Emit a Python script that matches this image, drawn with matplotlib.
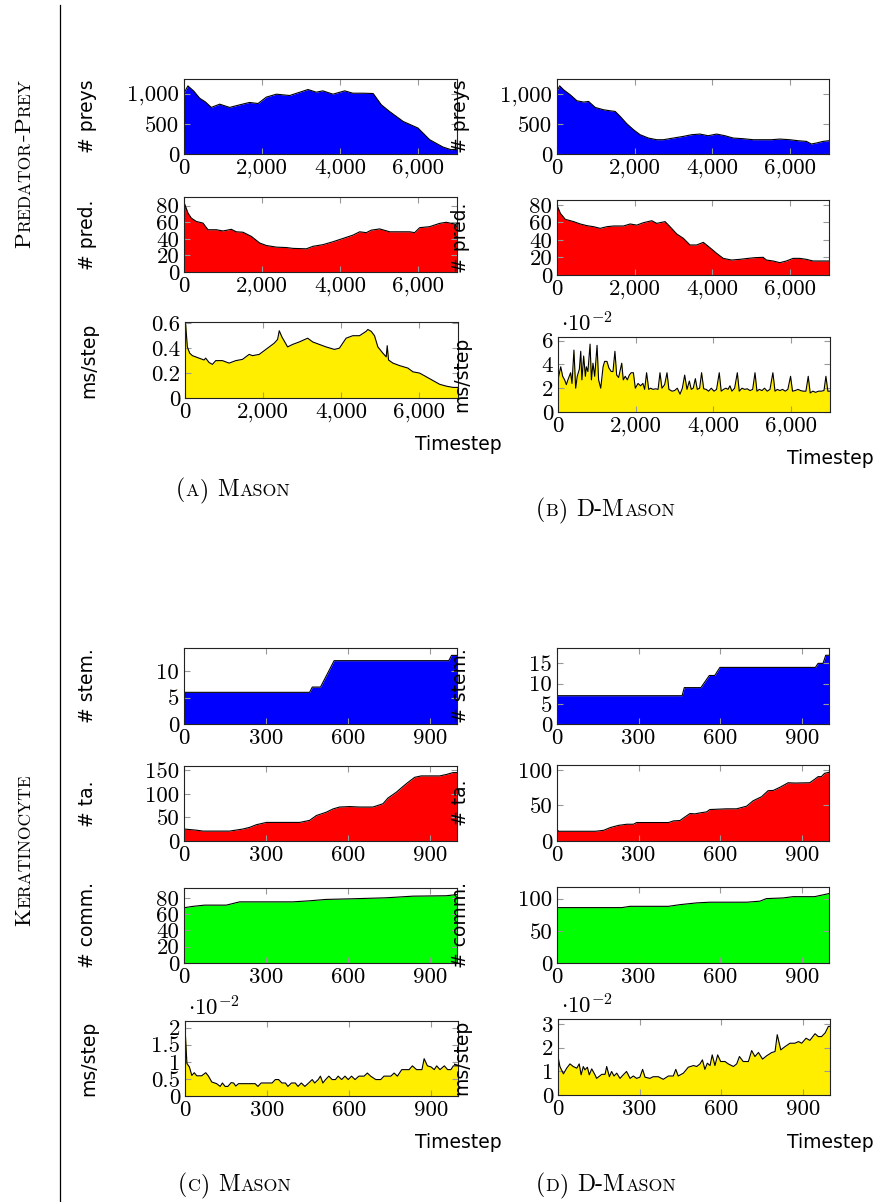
import matplotlib
matplotlib.use('Agg')
import matplotlib.pyplot as plt
from matplotlib.lines import Line2D
from matplotlib.ticker import FuncFormatter

plt.rcParams['mathtext.fontset'] = 'cm'
plt.rcParams['axes.formatter.use_mathtext'] = True

W, H = 873, 1202
SERIF = 'cmr10'
SANS = 'DejaVu Sans'

# ---------------- Predator-Prey, Mason ----------------
mason_preys_t = [0, 100, 250, 400, 550, 700, 915, 1170, 1430, 1680, 1900, 2110, 2370, 2710, 2970, 3180,
                 3390, 3560, 3820, 4120, 4330, 4590, 4850, 5060, 5270, 5620, 6000, 6300, 6640, 6850, 7000]
mason_preys = [1005, 1126, 1040, 923, 860, 770, 824, 770, 813, 852, 835, 940, 989, 967, 1022, 1066,
               1022, 1044, 989, 1044, 1005, 1005, 1000, 813, 703, 538, 429, 236, 115, 71, 82]

mason_pred_t = [0, 17, 103, 188, 316, 487, 615, 829, 1000, 1214, 1342, 1513, 1726, 1940, 2111, 2368,
                2624, 2795, 3137, 3308, 3564, 3820, 4077, 4333, 4504, 4675, 4803, 5017, 5274, 5530,
                5786, 5915, 6043, 6299, 6556, 6726, 6855, 6940, 7000]
mason_pred = [80, 82, 71, 65, 61, 59, 51, 51, 49.5, 51.5, 48.5, 48, 43, 35, 32, 30,
              29.5, 28.5, 28, 31, 33, 36.5, 40.5, 44.5, 48.5, 47.5, 50.5, 52, 48.5, 48.5,
              48.5, 47.5, 53.5, 54.7, 58.7, 60, 58.7, 58, 54.7]

mason_ms_t = [0, 17, 60, 120, 189, 360, 489, 531, 617, 703, 788, 960, 1131, 1303, 1474, 1645, 1731,
              1903, 2074, 2288, 2374, 2417, 2485, 2631, 2760, 2931, 3145, 3274, 3445, 3617, 3831,
              3959, 4131, 4302, 4474, 4645, 4688, 4774, 4859, 4945, 5073, 5159, 5185, 5219, 5331,
              5502, 5716, 5845, 6016, 6188, 6359, 6530, 6702, 6873, 7000]
mason_ms = [0.57, 0.59, 0.41, 0.36, 0.34, 0.32, 0.305, 0.32, 0.285, 0.27, 0.30, 0.30, 0.28, 0.30,
            0.31, 0.35, 0.34, 0.35, 0.39, 0.44, 0.47, 0.54, 0.49, 0.41, 0.43, 0.45, 0.48, 0.45, 0.43,
            0.41, 0.39, 0.40, 0.48, 0.50, 0.50, 0.535, 0.55, 0.535, 0.50, 0.41, 0.36, 0.33, 0.42,
            0.305, 0.28, 0.26, 0.24, 0.21, 0.20, 0.17, 0.14, 0.11, 0.095, 0.085, 0.085]

# ---------------- Predator-Prey, D-Mason ----------------
dmason_preys_t = [0, 17, 68, 171, 342, 513, 685, 813, 984, 1198, 1369, 1497, 1626, 1797, 1968, 2139,
                  2353, 2567, 2738, 2995, 3252, 3466, 3680, 3893, 4107, 4321, 4535, 4792, 5049, 5305,
                  5519, 5733, 5990, 6204, 6418, 6546, 6674, 6846, 7000]
dmason_preys = [1050, 1078, 1145, 1078, 994, 894, 872, 883, 782, 743, 726, 715, 631, 508, 408, 324,
                268, 240, 240, 268, 296, 324, 335, 307, 335, 307, 268, 257, 240, 240,
                240, 251, 240, 223, 212, 168, 184, 212, 223]

dmason_pred_t = [0, 17, 86, 214, 428, 599, 770, 941, 1112, 1284, 1455, 1711, 1883, 2054, 2225, 2439,
                 2567, 2781, 2909, 3081, 3252, 3423, 3594, 3765, 3936, 4107, 4279, 4492, 4706, 4920,
                 5091, 5305, 5391, 5562, 5733, 5904, 6075, 6247, 6418, 6589, 6760, 7000]
dmason_pred = [76, 78, 70.5, 63.6, 61, 58.3, 56.4, 55.2, 53.3, 55.2, 56, 56, 58.3, 57, 59.8, 62,
               59, 61, 55.2, 46.9, 41.9, 34.3, 34.3, 37.3, 31.2, 24.8, 19, 17.1, 17.9, 19,
               19.8, 20.2, 17.1, 16, 14.1, 16, 19, 19, 17.9, 16, 16, 16]

# ms/step in units of 1e-2
dmason_ms_t = [0, 70, 120, 170, 215, 255, 325, 360, 410, 455,
               495, 550, 585, 615, 660, 705, 730, 770, 825, 860,
               900, 945, 1005, 1045, 1100, 1160, 1200, 1260, 1310, 1370,
               1415, 1465, 1510, 1560, 1640, 1680, 1730, 1785, 1835, 1885,
               1940, 1990, 2060, 2125, 2185, 2230, 2280, 2335, 2385, 2445,
               2515, 2575, 2625, 2675, 2745, 2805, 2855, 2935, 3000, 3070,
               3140, 3200, 3260, 3320, 3380, 3430, 3480, 3535, 3585, 3645,
               3695, 3750, 3815, 3875, 3945, 4015, 4080, 4150, 4200, 4260,
               4320, 4375, 4425, 4475, 4545, 4615, 4665, 4735, 4805, 4870,
               4940, 5010, 5070, 5120, 5180, 5250, 5315, 5385, 5455, 5530,
               5585, 5645, 5710, 5780, 5850, 5915, 5985, 6035, 6105, 6175,
               6245, 6310, 6380, 6440, 6490, 6560, 6630, 6705, 6775, 6845,
               6895, 6945, 7000]
dmason_ms = [2.7, 3.8, 3.0, 2.7, 2.3, 2.7, 3.3, 2.4, 5.2, 2.0,
             3.0, 3.6, 5.1, 2.7, 4.7, 3.0, 3.8, 3.4, 5.7, 2.7,
             4.1, 3.0, 5.6, 2.7, 2.0, 3.8, 4.25, 4.25, 3.7, 3.4,
             3.4, 5.1, 3.1, 2.9, 4.1, 2.7, 3.0, 2.7, 3.1, 3.3,
             3.3, 2.0, 2.4, 2.2, 2.4, 1.9, 3.3, 1.9, 2.0, 1.9,
             1.95, 1.9, 3.3, 2.0, 2.3, 3.3, 1.9, 1.75, 1.8, 2.0,
             1.5, 2.0, 3.1, 1.9, 2.6, 1.9, 2.0, 2.8, 1.9, 2.0,
             3.3, 1.95, 1.9, 1.75, 2.0, 1.75, 1.9, 3.3, 1.75, 1.9,
             2.0, 1.9, 2.2, 1.75, 2.0, 3.3, 1.75, 2.0, 1.9, 1.95,
             1.8, 1.9, 3.3, 1.75, 1.9, 1.8, 2.0, 1.75, 1.9, 3.3,
             1.75, 1.9, 1.8, 1.9, 1.75, 1.9, 3.0, 1.75, 1.8, 1.9,
             1.8, 1.75, 1.75, 3.0, 1.6, 1.75, 1.65, 1.75, 1.75, 1.8,
             3.0, 1.75, 1.75]

# ---------------- Keratinocyte, Mason ----------------
mason_stem_t = [0, 460, 470, 500, 550, 970, 980, 1000]
mason_stem = [6, 6, 7, 7, 12, 12, 13, 13]

mason_ta_t = [0, 45, 70, 167, 216, 241, 265, 302, 424, 460, 485, 521, 546, 570, 607, 643, 692, 729,
              747, 778, 802, 820, 845, 869, 937, 961, 985, 1000]
mason_ta = [25.4, 23, 21, 21, 25.4, 29, 34.5, 39.4, 39.4, 43.7, 54, 61, 68, 72, 73, 72, 72, 79,
            91, 103.5, 115.5, 124, 135, 138, 138, 141, 145, 145]

mason_comm_t = [0, 33, 76, 155, 204, 399, 460, 521, 619, 741, 839, 961, 1000]
mason_comm = [67.8, 69.5, 71, 71, 75, 75, 76.3, 78, 78.8, 80, 82, 82.5, 84]

# ms/step in units of 1e-2
mason_kms_t = [0, 7, 16, 25, 34, 43, 61, 76, 86, 98, 116, 129, 137, 147, 157, 169, 178, 186, 196,
               257, 267, 279, 319, 331, 343, 355, 368, 377, 390, 404, 414, 426, 439, 453, 466, 475,
               488, 496, 505, 515, 527, 539, 551, 561, 574, 586, 598, 610, 623, 637, 656, 668, 680,
               699, 717, 729, 754, 766, 778, 794, 821, 833, 848, 868, 876, 888, 901, 913, 922, 934,
               950, 962, 974, 983, 1000]
mason_kms = [2.02, 0.95, 0.85, 0.6, 0.68, 0.59, 0.59, 0.68, 0.58, 0.41, 0.36, 0.28, 0.38, 0.28,
             0.28, 0.39, 0.38, 0.29, 0.36, 0.36, 0.28, 0.38, 0.38, 0.48, 0.48, 0.38, 0.38, 0.28,
             0.38, 0.38, 0.28, 0.38, 0.28, 0.38, 0.48, 0.38, 0.48, 0.58, 0.38, 0.48, 0.58, 0.48,
             0.48, 0.58, 0.48, 0.58, 0.48, 0.58, 0.48, 0.58, 0.58, 0.67, 0.58, 0.48, 0.48, 0.58,
             0.58, 0.67, 0.58, 0.77, 0.77, 0.88, 0.77, 0.77, 1.09, 0.88, 0.85, 0.77, 0.88, 0.77,
             0.88, 0.77, 0.77, 0.88, 0.88]

# ---------------- Keratinocyte, D-Mason ----------------
dmason_stem_t = [0, 460, 468, 529, 560, 580, 599, 950, 960, 978, 988, 1000]
dmason_stem = [7, 7, 9, 9, 12, 12, 14, 14, 15, 15, 17, 17]

dmason_ta_t = [0, 6, 141, 171, 196, 226, 257, 281, 293, 410, 428, 452, 471, 489, 507, 526, 550, 562,
               623, 660, 697, 721, 752, 776, 795, 819, 850, 874, 929, 947, 960, 972, 984, 1000]
dmason_ta = [16, 13.7, 13.7, 15, 18.9, 22, 23.6, 23.6, 26, 26, 28.3, 28.8, 34, 38.7, 38.2, 39.6, 41,
             44.3, 45.3, 45.3, 49, 56.6, 62.3, 70.8, 71.2, 75.5, 82, 81.6, 82, 86.8, 90.6, 90.6,
             95.3, 96.7]

dmason_comm_t = [0, 238, 269, 410, 452, 513, 562, 697, 746, 770, 831, 868, 947, 978, 1000]
dmason_comm = [86, 86, 88, 88, 90.6, 93.3, 94.4, 94.4, 96, 100, 101, 103, 103, 105.8, 107.8]

# ms/step in units of 1e-2
dmason_kms_t = [0, 7, 20, 32, 44, 56, 69, 78, 85, 93, 99, 108, 115, 124, 136, 142, 161, 173, 179,
                189, 197, 206, 216, 228, 240, 252, 265, 277, 289, 301, 311, 320, 338, 350, 369, 387,
                406, 424, 433, 442, 461, 479, 498, 510, 522, 531, 540, 549, 559, 567, 577, 587, 598,
                614, 626, 645, 657, 667, 681, 700, 712, 724, 737, 752, 767, 786, 798, 806, 819, 835,
                853, 871, 884, 896, 912, 926, 945, 957, 969, 982, 994, 1000]
dmason_kms = [1.62, 1.2, 0.89, 1.13, 1.31, 1.2, 1.13, 1.31, 0.85, 1.2, 1.06, 1.17, 0.85, 1.1, 0.85,
              0.7, 0.87, 0.87, 1.2, 0.77, 0.99, 0.8, 0.92, 0.7, 0.85, 0.99, 0.7, 0.8, 0.7, 0.75,
              1.08, 0.75, 0.7, 0.77, 0.77, 0.66, 0.8, 0.8, 1.08, 0.8, 0.92, 1.17, 1.24, 1.2, 1.31,
              1.48, 1.08, 1.34, 1.24, 1.69, 1.24, 1.69, 1.41, 1.41, 1.31, 1.2, 1.31, 1.62, 1.41,
              1.41, 1.87, 1.62, 1.79, 1.51, 1.65, 1.79, 1.83, 2.54, 1.9, 2.04, 2.18, 2.18, 2.25,
              2.18, 2.39, 2.3, 2.58, 2.46, 2.46, 2.61, 2.89, 2.89]

pp_xticks = [0, 2000, 4000, 6000]
ker_xticks = [0, 300, 600, 900]

BLUE, RED, YELLOW, GREEN = '#0000ff', '#ff0000', '#ffee00', '#00ff00'
TICK_FS = 16.5
LABEL_FS = 13.5


def fmt(v, pos):
    if abs(v - round(v)) < 1e-9:
        return '{:,}'.format(int(round(v)))
    return '{:g}'.format(v)


def panel(fig, box, t, v, color, xmax, xticks, ymax, yticks, ylabel,
          scaled=False, xlabel=False):
    l, top, r, b = box
    ax = fig.add_axes([l / W, 1 - b / H, (r - l) / W, (b - top) / H])
    ax.fill_between(t, v, 0, color=color, lw=0)
    ax.plot(t, v, color='black', lw=0.8)
    ax.set_xlim(0, xmax)
    ax.set_ylim(0, ymax)
    ax.set_xticks(xticks)
    ax.set_yticks(yticks)
    ax.xaxis.set_major_formatter(FuncFormatter(fmt))
    ax.yaxis.set_major_formatter(FuncFormatter(fmt))
    ax.tick_params(direction='in', length=4, width=0.8, color='#999999',
                   top=True, right=True, labelsize=TICK_FS, pad=3.5)
    for lab in ax.get_xticklabels() + ax.get_yticklabels():
        lab.set_family(SERIF)
    for sp in ax.spines.values():
        sp.set_linewidth(0.8)
        sp.set_color('#222222')
    ax.set_ylabel(ylabel, fontsize=LABEL_FS, family=SANS)
    ax.yaxis.set_label_coords(-87 / (r - l), 0.5)
    if scaled:
        ax.text(0.01, 1.0, r'$\cdot 10^{-2}$', transform=ax.transAxes, fontsize=TICK_FS,
                ha='left', va='bottom')
    if xlabel:
        ax.annotate('Timestep', xy=(1, 0), xycoords='axes fraction', xytext=(0, -47),
                    textcoords='offset pixels', ha='center', va='center',
                    fontsize=LABEL_FS, family=SANS)
    return ax


def smallcaps(fig, x, y, parts, size, rotation=0):
    # parts: (text, small) pieces drawn one after another, x/y in pixels from top-left
    rend = fig.canvas.get_renderer()
    for txt, small in parts:
        if txt == ' ':
            gap = size * 0.45
            if rotation:
                y -= gap
            else:
                x += gap
            continue
        fs = size * 0.76 if small else size
        t = fig.text(x / W, 1 - y / H, txt, fontsize=fs, family=SERIF, rotation=rotation,
                     rotation_mode='anchor', ha='left', va='baseline')
        bb = t.get_window_extent(rend)
        if rotation:
            y -= bb.height + 0.5
        else:
            x += bb.width + 0.5


fig = plt.figure(figsize=(W / 100, H / 100), dpi=100)

# Predator-Prey
panel(fig, (184, 79, 457, 154), mason_preys_t, mason_preys, BLUE, 7000, pp_xticks,
      1240, [0, 500, 1000], '# preys')
panel(fig, (184, 197, 457, 272), mason_pred_t, mason_pred, RED, 7000, pp_xticks,
      90.5, [0, 20, 40, 60, 80], '# pred.')
panel(fig, (185, 322, 458, 398), mason_ms_t, mason_ms, YELLOW, 7000, pp_xticks,
      0.61, [0, 0.2, 0.4, 0.6], 'ms/step', xlabel=True)

panel(fig, (557, 79, 829, 154), dmason_preys_t, dmason_preys, BLUE, 7000, pp_xticks,
      1260, [0, 500, 1000], '# preys')
panel(fig, (557, 200, 829, 275), dmason_pred_t, dmason_pred, RED, 7000, pp_xticks,
      85.7, [0, 20, 40, 60, 80], '# pred.')
panel(fig, (558, 337, 830, 412), dmason_ms_t, dmason_ms, YELLOW, 7000, pp_xticks,
      6.3, [0, 2, 4, 6], 'ms/step', scaled=True, xlabel=True)

# Keratinocyte
panel(fig, (184, 648, 457, 724), mason_stem_t, mason_stem, BLUE, 1000, ker_xticks,
      14.4, [0, 5, 10], '# stem.')
panel(fig, (184, 766, 457, 841), mason_ta_t, mason_ta, RED, 1000, ker_xticks,
      159, [0, 50, 100, 150], '# ta.')
panel(fig, (184, 888, 457, 963), mason_comm_t, mason_comm, GREEN, 1000, ker_xticks,
      92, [0, 20, 40, 60, 80], '# comm.')
panel(fig, (185, 1021, 458, 1096), mason_kms_t, mason_kms, YELLOW, 1000, ker_xticks,
      2.19, [0, 0.5, 1, 1.5, 2], 'ms/step', scaled=True, xlabel=True)

panel(fig, (557, 648, 829, 724), dmason_stem_t, dmason_stem, BLUE, 1000, ker_xticks,
      18.8, [0, 5, 10, 15], '# stem.')
panel(fig, (557, 765, 829, 841), dmason_ta_t, dmason_ta, RED, 1000, ker_xticks,
      107, [0, 50, 100], '# ta.')
panel(fig, (557, 887, 829, 963), dmason_comm_t, dmason_comm, GREEN, 1000, ker_xticks,
      118, [0, 50, 100], '# comm.')
panel(fig, (558, 1019, 830, 1095), dmason_kms_t, dmason_kms, YELLOW, 1000, ker_xticks,
      3.2, [0, 1, 2, 3], 'ms/step', scaled=True, xlabel=True)

# separator line
fig.add_artist(Line2D([60 / W, 60 / W], [1 - 5 / H, 0], color='black', lw=0.9))

# row titles and captions
smallcaps(fig, 30, 248, [('P', 0), ('REDATOR', 1), ('-', 0), ('P', 0), ('REY', 1)], 16.5, rotation=90)
smallcaps(fig, 30, 926, [('K', 0), ('ERATINOCYTE', 1)], 16.5, rotation=90)

smallcaps(fig, 176, 496, [('(', 0), ('A', 1), (')', 0), (' ', 0), ('M', 0), ('ASON', 1)], 17)
smallcaps(fig, 536, 516, [('(', 0), ('B', 1), (')', 0), (' ', 0), ('D-M', 0), ('ASON', 1)], 17)
smallcaps(fig, 178, 1191, [('(', 0), ('C', 1), (')', 0), (' ', 0), ('M', 0), ('ASON', 1)], 17)
smallcaps(fig, 536, 1191, [('(', 0), ('D', 1), (')', 0), (' ', 0), ('D-M', 0), ('ASON', 1)], 17)

fig.savefig('out.png', dpi=100)
